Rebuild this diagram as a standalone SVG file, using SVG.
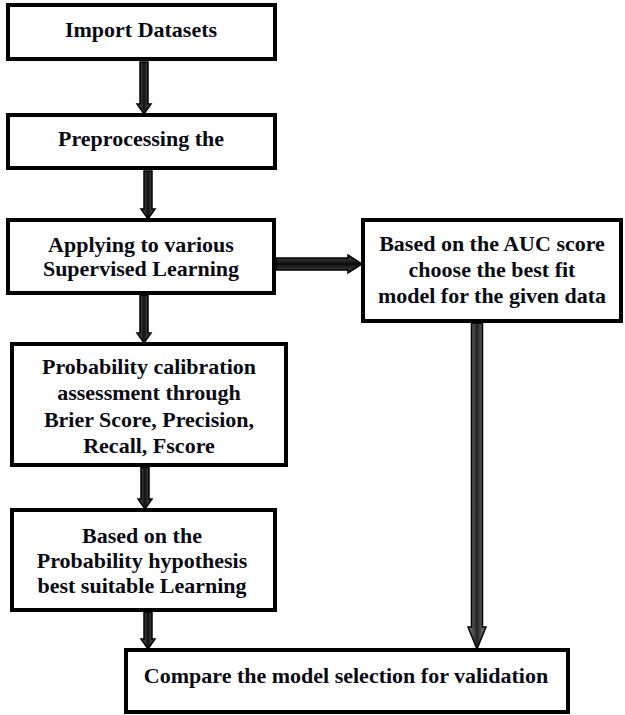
<svg xmlns="http://www.w3.org/2000/svg" width="625" height="715" viewBox="0 0 625 715">
<style>
.box{fill:#fff;stroke:#000;stroke-width:4}
.t{font-family:"Liberation Serif","Times New Roman",serif;font-weight:bold;font-size:22px;fill:#0a0a14;text-anchor:middle}
.av{fill:url(#gv);stroke:#000;stroke-width:1.5;stroke-linejoin:miter}
.ah{fill:url(#gh);stroke:#000;stroke-width:1.5}
.avg{fill:url(#gv2);stroke:#000;stroke-width:1.5}
</style>
<defs>
<linearGradient id="gv" x1="0" y1="0" x2="1" y2="0"><stop offset="0" stop-color="#666"/><stop offset="0.5" stop-color="#111"/><stop offset="1" stop-color="#666"/></linearGradient>
<linearGradient id="gv2" x1="0" y1="0" x2="1" y2="0"><stop offset="0" stop-color="#888"/><stop offset="0.5" stop-color="#222"/><stop offset="1" stop-color="#888"/></linearGradient>
<linearGradient id="gh" x1="0" y1="0" x2="0" y2="1"><stop offset="0" stop-color="#555"/><stop offset="0.5" stop-color="#0a0a0a"/><stop offset="1" stop-color="#555"/></linearGradient>
</defs>
<rect width="625" height="715" fill="#fff"/>
<g id="connectors">
<polygon class="av" points="140,62 148,62 148,104 151,104 144,114 137,104 140,104"/>
<polygon class="av" points="144,171 152,171 152,209 155,209 148,219 141,209 144,209"/>
<polygon class="av" points="140,295 148,295 148,333 151,333 144,343 137,333 140,333"/>
<polygon class="av" points="141,467 149,467 149,499 152,499 145,509 138,499 141,499"/>
<polygon class="av" points="144,612 152,612 152,639 155,639 148,649 141,639 144,639"/>
<polygon class="ah" points="276,258 348,258 348,255 362,264 348,273 348,270 276,270"/>
<polygon class="avg" points="471.5,323 482.5,323 482.5,627 486,627 477,649 468,627 471.5,627"/>
</g>
<g id="import">
<rect class="box" x="8" y="5" width="267" height="54"/>
<text class="t" x="141" y="37">Import Datasets</text>
</g>
<g id="preprocess">
<rect class="box" x="8" y="115" width="267" height="53"/>
<text class="t" x="141" y="146">Preprocessing the</text>
</g>
<g id="apply">
<rect class="box" x="8" y="220" width="266" height="73"/>
<text class="t" x="141" y="252">Applying to various</text>
<text class="t" x="141" y="276">Supervised Learning</text>
</g>
<g id="auc">
<rect class="box" x="363" y="220" width="258" height="101"/>
<text class="t" x="492" y="251">Based on the AUC score</text>
<text class="t" x="492" y="277">choose the best fit</text>
<text class="t" x="492" y="303">model for the given data</text>
</g>
<g id="calibration">
<rect class="box" x="12" y="344" width="274" height="121"/>
<text class="t" x="149" y="374">Probability calibration</text>
<text class="t" x="149" y="400">assessment through</text>
<text class="t" x="149" y="427">Brier Score, Precision,</text>
<text class="t" x="149" y="453">Recall, Fscore</text>
</g>
<g id="hypothesis">
<rect class="box" x="12" y="510" width="263" height="100"/>
<text class="t" x="142" y="543">Based on the</text>
<text class="t" x="142" y="568">Probability hypothesis</text>
<text class="t" x="142" y="593">best suitable Learning</text>
</g>
<g id="compare">
<rect class="box" x="126" y="650" width="442" height="62"/>
<text class="t" x="346" y="683">Compare the model selection for validation</text>
</g>
</svg>
